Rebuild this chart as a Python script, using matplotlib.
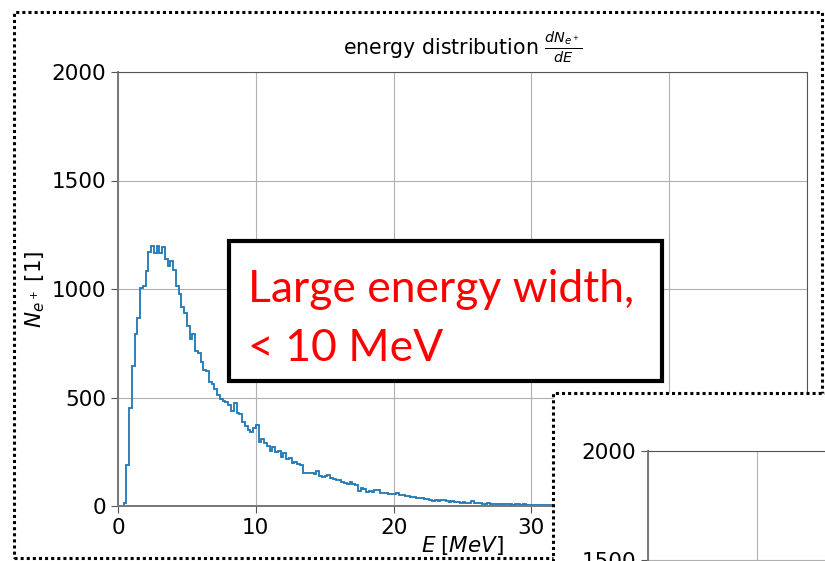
import numpy as np
import matplotlib
matplotlib.use("Agg")
import matplotlib.pyplot as plt
from matplotlib.patches import Rectangle

# positron counts per 0.2 MeV bin, starting at E = 0
counts = [0, 0, 15, 189, 450, 645, 794, 868, 1006, 1014,
          1083, 1170, 1200, 1168, 1198, 1165, 1195, 1138, 1105, 1130,
          1088, 1012, 975, 915, 888, 830, 770, 792, 712, 705,
          665, 627, 622, 572, 560, 540, 512, 495, 484, 478,
          466, 438, 476, 428, 422, 388, 370, 350, 343, 358,
          373, 296, 307, 289, 277, 255, 273, 250, 253, 224,
          242, 215, 222, 200, 205, 195, 188, 152, 150, 150,
          151, 148, 160, 136, 134, 140, 145, 130, 126, 120,
          118, 110, 104, 102, 109, 100, 96, 68, 82, 80,
          66, 68, 64, 74, 72, 58, 60, 62, 56, 54,
          55, 60, 52, 50, 44, 46, 42, 40, 38, 36,
          35, 30, 32, 28, 25, 27, 24, 28, 26, 22,
          20, 22, 18, 20, 16, 18, 14, 16, 24, 13,
          12, 14, 11, 10, 13, 9, 10, 8, 9, 7,
          8, 9, 7, 6, 8, 7, 6, 7, 5, 6,
          5, 6, 4, 5, 4, 5, 4, 3, 4, 3,
          2, 3, 2, 2, 1, 2, 1, 1, 0, 1]
bin_width = 0.2
x_ticks = [0, 10, 20, 30, 40, 50]
y_ticks = [0, 500, 1000, 1500, 2000]
note_lines = ["Large energy width,", "< 10 MeV"]

W, H = 825, 561
fig = plt.figure(figsize=(W / 100, H / 100), dpi=100)


def fx(px):
    return px / W


def fy(py):
    return (H - py) / H


def style_axes(ax):
    ax.grid(True, color="#b0b0b0", lw=0.8)
    ax.set_axisbelow(True)
    for s in ax.spines.values():
        s.set_color("#555555")
        s.set_linewidth(0.8)
    for s in ("left", "bottom"):
        ax.spines[s].set_linewidth(1.4)
        ax.spines[s].set_color("#777777")
    ax.tick_params(labelsize=15.5, color="#555555", length=5)


# main chart
ax = fig.add_axes([fx(118), fy(506), fx(807) - fx(118), fy(72) - fy(506)])
edges = np.arange(len(counts) + 1) * bin_width
ax.stairs(counts, edges, color="#1f77b4", lw=1.3)
ax.set_xlim(0, 50)
ax.set_ylim(0, 2000)
ax.set_xticks(x_ticks)
ax.set_yticks(y_ticks)
style_axes(ax)
ax.set_title(r"energy distribution $\frac{dN_{e^+}}{dE}$", fontsize=14.8, pad=12)
ax.set_xlabel(r"$E\;[MeV]$", fontsize=15.5, labelpad=-3)
ax.set_ylabel(r"$N_{e^+}$ [1]", fontsize=15.5, labelpad=3)

# dotted frame around the first picture
fig.patches.append(Rectangle((fx(14), fy(558)), fx(822) - fx(14), fy(12) - fy(558),
                             transform=fig.transFigure, fill=False, ec="black",
                             lw=2.2, ls=(0, (1, 1)), zorder=3))

# text box
fig.patches.append(Rectangle((fx(229), fy(381)), fx(662) - fx(229), fy(241) - fy(381),
                             transform=fig.transFigure, fc="white", ec="black",
                             lw=3, zorder=4))
fig.text(fx(248), fy(302), note_lines[0], color="red", fontsize=32,
         family="Lato", va="baseline", ha="left", zorder=5)
fig.text(fx(248), fy(361), note_lines[1], color="red", fontsize=32,
         family="Lato", va="baseline", ha="left", zorder=5)

# second picture overlapping the corner
fig.patches.append(Rectangle((fx(553), fy(570)), fx(840) - fx(553), fy(393) - fy(570),
                             transform=fig.transFigure, fc="white", ec="black",
                             lw=2.2, ls=(0, (1, 1)), zorder=6))
ax2 = fig.add_axes([fx(648), fy(885), fx(1193) - fx(648), fy(451) - fy(885)], zorder=7)
ax2.set_xlim(0, 50)
ax2.set_ylim(0, 2000)
ax2.set_xticks(x_ticks)
ax2.set_yticks(y_ticks)
style_axes(ax2)

fig.savefig("out.png", dpi=100)
